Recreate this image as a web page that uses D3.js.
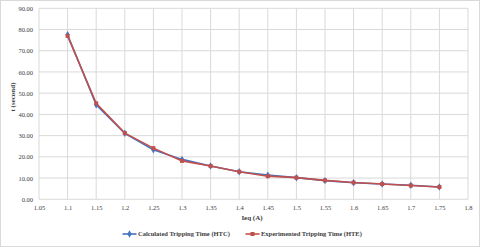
<!DOCTYPE html>
<html><head><meta charset="utf-8">
<script src="https://cdn.jsdelivr.net/npm/d3@7"></script>
<style>body{margin:0;background:#fff}svg{display:block}</style>
</head><body>
<script>
const currents = [1.1,1.15,1.2,1.25,1.3,1.35,1.4,1.45,1.5,1.55,1.6,1.65,1.7,1.75];
const calculated = [77.5,44.5,31.1,23.3,18.8,15.7,13.0,11.4,10.2,8.8,7.8,7.2,6.6,5.8];
const experimented = [77.0,45.2,31.2,24.1,18.1,15.7,13.0,10.9,10.2,8.9,7.9,7.2,6.5,5.8];
const xTicks = [1.05,1.1,1.15,1.2,1.25,1.3,1.35,1.4,1.45,1.5,1.55,1.6,1.65,1.7,1.75,1.8];
const yTicks = [0,10,20,30,40,50,60,70,80,90];
const seriesNames = ["Calculated Tripping Time (HTC)","Experimented Tripping Time (HTE)"];
const colors = ["#4472C4","#C0504D"];

const W=480,H=247;
const svg=d3.select("body").append("svg").attr("width",W).attr("height",H);
svg.append("rect").attr("x",0.5).attr("y",0.5).attr("width",W-1).attr("height",H-1).attr("fill","#fff").attr("stroke","#d9d9d9");
const x=d3.scaleLinear().domain([1.05,1.8]).range([39,468]);
const y=d3.scaleLinear().domain([0,90]).range([199.3,8.3]);
const font="'Liberation Serif','Times New Roman',serif";

const g=svg.append("g");
g.selectAll(".vg").data(xTicks).join("line").attr("x1",d=>x(d)).attr("x2",d=>x(d)).attr("y1",y(90)).attr("y2",y(0)).attr("stroke","#d9d9d9").attr("stroke-width",1);
g.selectAll(".hg").data(yTicks).join("line").attr("x1",x(1.05)).attr("x2",x(1.8)).attr("y1",d=>y(d)).attr("y2",d=>y(d)).attr("stroke","#d9d9d9").attr("stroke-width",1);

const xAxis=d3.axisBottom(x).tickValues(xTicks).tickFormat(d=>String(d)).tickSize(0).tickPadding(6);
const xa=svg.append("g").attr("transform",`translate(0,${y(0)})`).call(xAxis);
xa.select(".domain").remove();
xa.selectAll("text").attr("font-family",font).attr("font-size",6.5).attr("fill","#404040");
const yAxis=d3.axisLeft(y).tickValues(yTicks).tickFormat(d3.format(".2f")).tickSize(0).tickPadding(6);
const ya=svg.append("g").attr("transform",`translate(${x(1.05)},0)`).call(yAxis);
ya.select(".domain").remove();
ya.selectAll("text").attr("font-family",font).attr("font-size",6.5).attr("fill","#404040");

svg.append("text").attr("x",252).attr("y",220).attr("text-anchor","middle").attr("font-family",font).attr("font-weight","bold").attr("font-size",7).attr("fill","#404040").text("Ieq (A)");
svg.append("text").attr("transform","translate(15,97) rotate(-90)").attr("text-anchor","middle").attr("font-family",font).attr("font-weight","bold").attr("font-size",7).attr("fill","#404040").text("t (second)");

const data=[calculated,experimented];
const line=d3.line().x((d,i)=>x(currents[i])).y(d=>y(d));
data.forEach((s,k)=>{
  svg.append("path").datum(s).attr("d",line).attr("fill","none").attr("stroke",colors[k]).attr("stroke-width",1.6);
});
svg.selectAll(".m0").data(calculated).join("path")
  .attr("transform",(d,i)=>`translate(${x(currents[i])},${y(d)})`)
  .attr("d",d3.symbol(d3.symbolDiamond,16)).attr("fill",colors[0]);
svg.selectAll(".m1").data(experimented).join("rect")
  .attr("x",(d,i)=>x(currents[i])-2).attr("y",d=>y(d)-2).attr("width",4).attr("height",4).attr("fill",colors[1]);

// legend
const lg=[{x1:122.5,x2:136.5,tx:138},{x1:245.5,x2:259.5,tx:261}];
lg.forEach((l,k)=>{
  const ly=234;
  svg.append("line").attr("x1",l.x1).attr("x2",l.x2).attr("y1",ly).attr("y2",ly).attr("stroke",colors[k]).attr("stroke-width",1.6);
  if(k===0) svg.append("path").attr("transform",`translate(${(l.x1+l.x2)/2},${ly})`).attr("d",d3.symbol(d3.symbolDiamond,16)).attr("fill",colors[0]);
  else svg.append("rect").attr("x",(l.x1+l.x2)/2-2).attr("y",ly-2).attr("width",4).attr("height",4).attr("fill",colors[1]);
  svg.append("text").attr("x",l.tx).attr("y",ly+2.3).attr("font-family",font).attr("font-weight","bold").attr("font-size",6.5).attr("fill","#404040").text(seriesNames[k]);
});
</script>
</body></html>
